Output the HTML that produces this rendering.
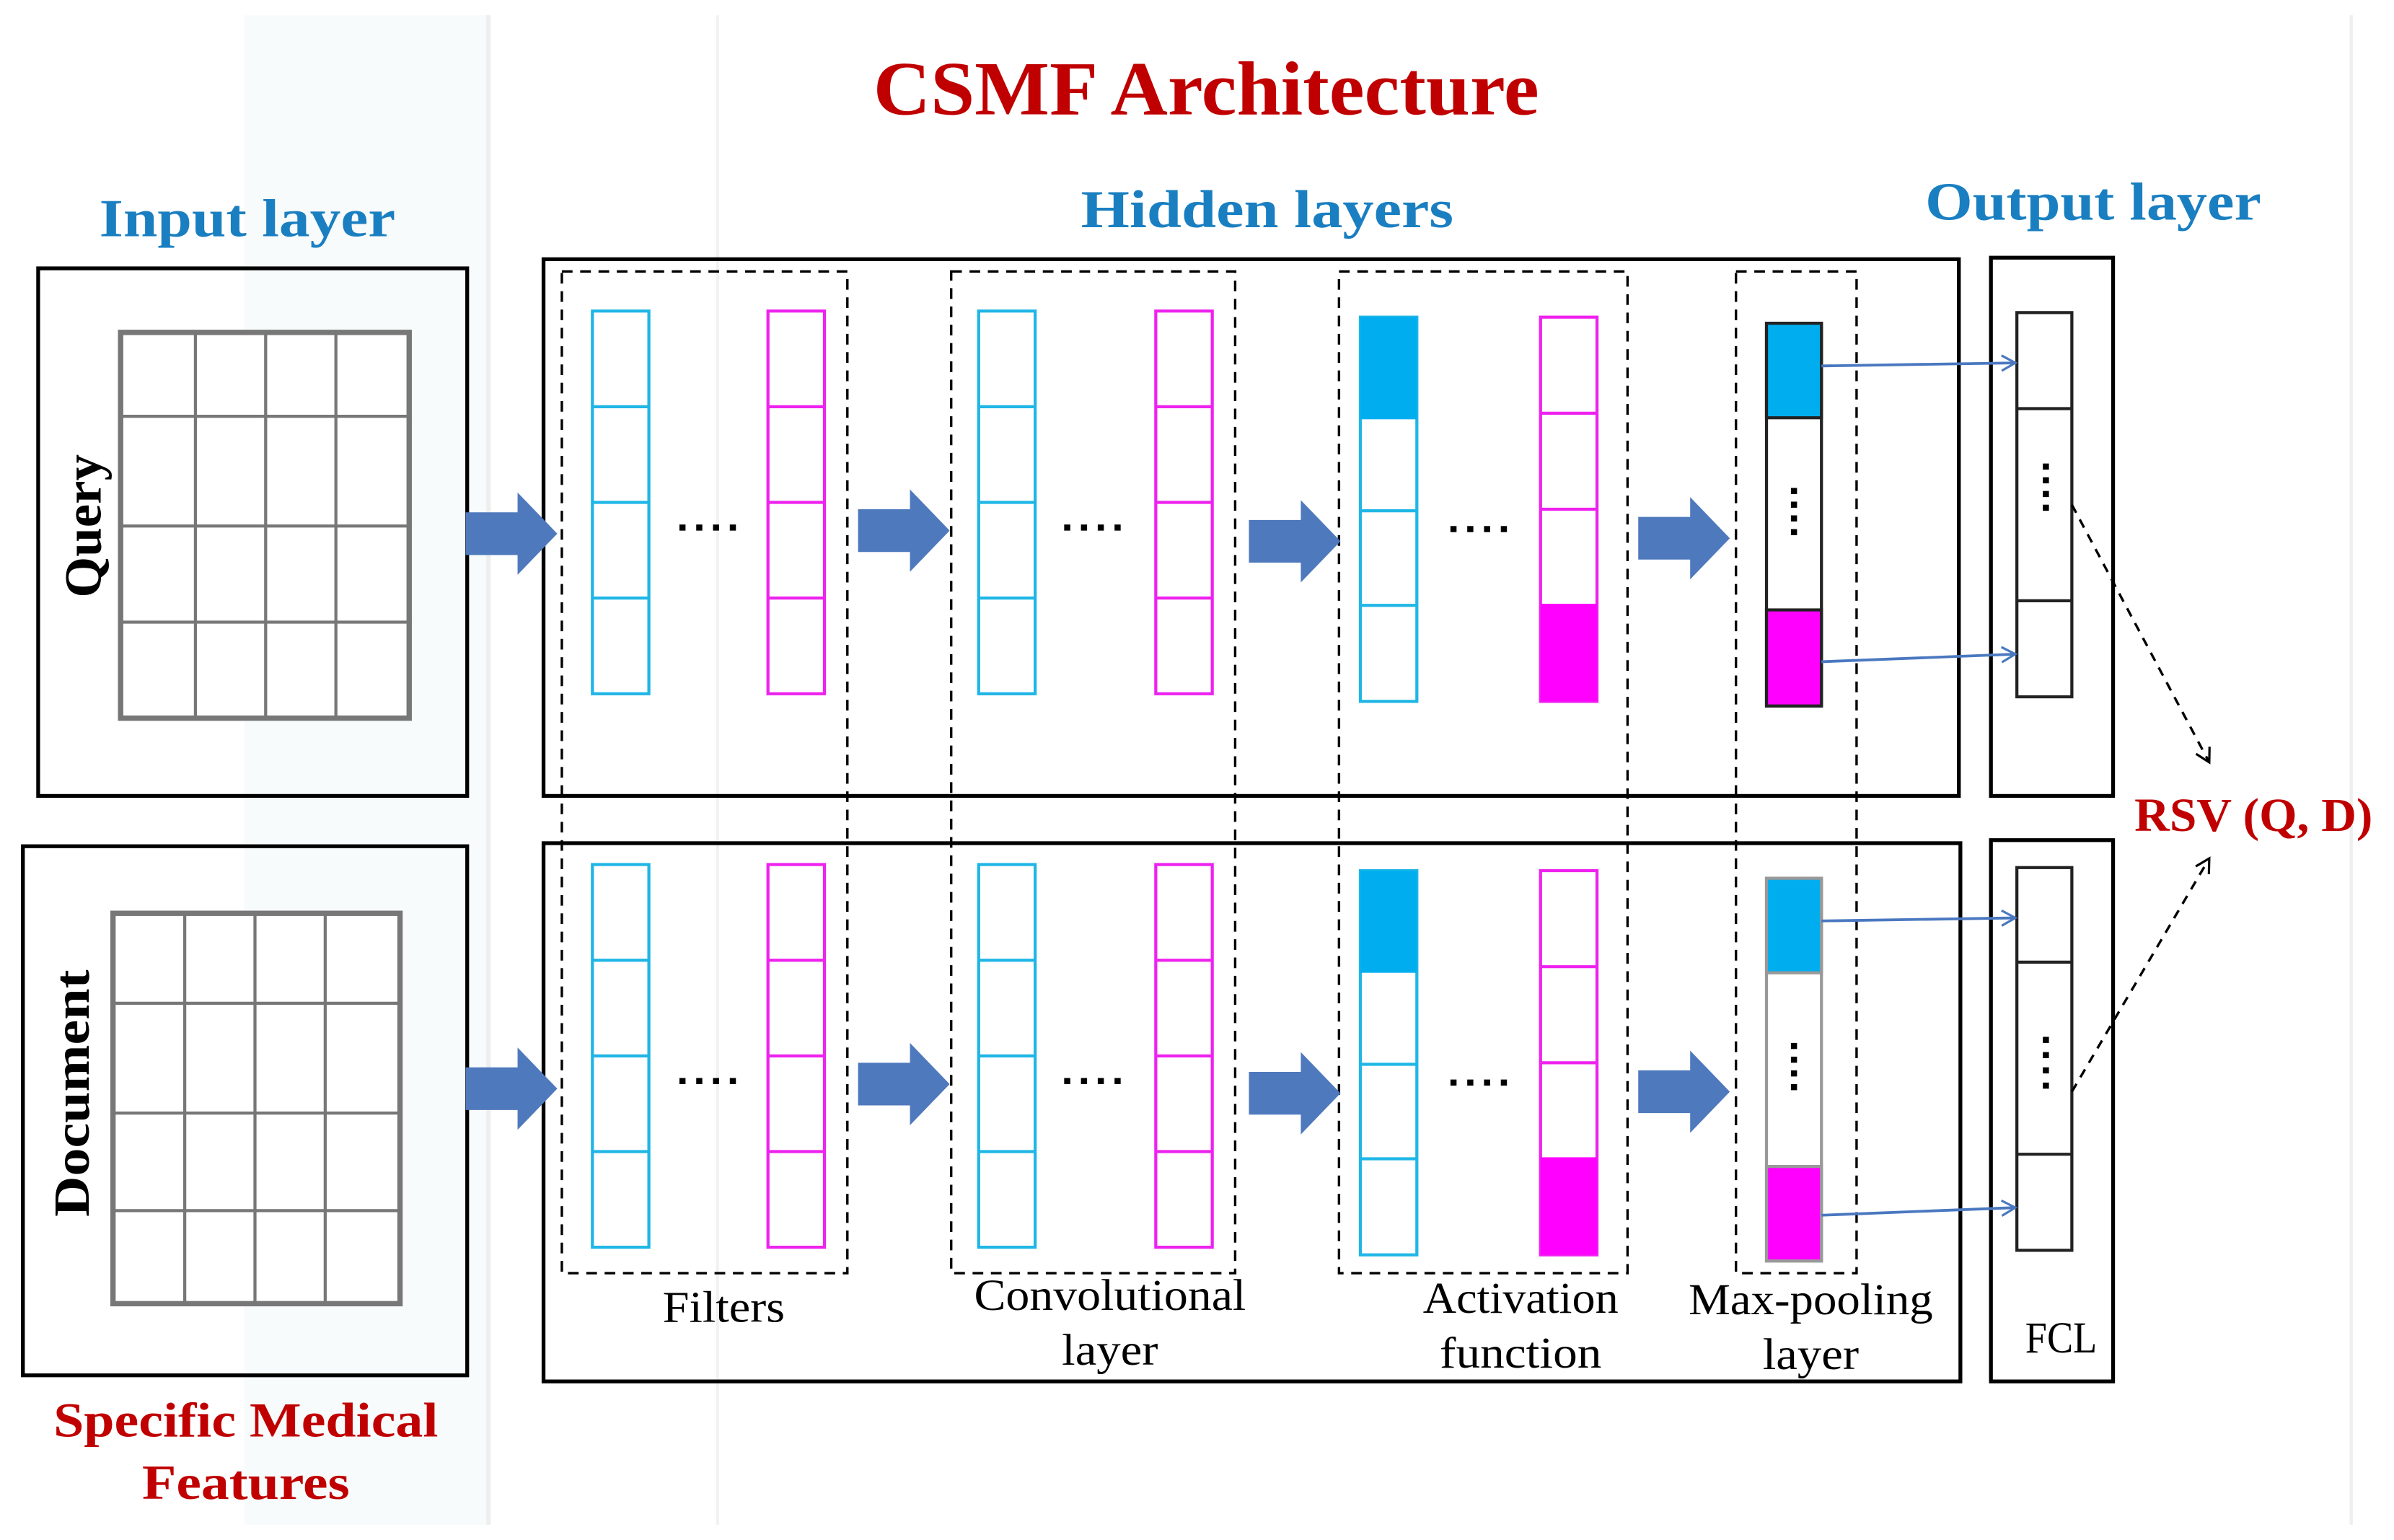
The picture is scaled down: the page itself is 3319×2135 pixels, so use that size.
<!DOCTYPE html>
<html><head><meta charset="utf-8"><style>
html,body{margin:0;padding:0;background:#fff;}
svg{display:block;}
</style></head><body>
<svg width="3319" height="2135" viewBox="0 0 1568 1010" preserveAspectRatio="none" xmlns="http://www.w3.org/2000/svg">
<defs>
<marker id="ob" markerWidth="12" markerHeight="12" refX="10" refY="6" orient="auto" markerUnits="userSpaceOnUse"><path d="M1,1 L10,6 L1,11" fill="none" stroke="#4a78c0" stroke-width="1.5"/></marker>
<marker id="od" markerWidth="12" markerHeight="12" refX="10" refY="6" orient="auto" markerUnits="userSpaceOnUse"><path d="M1,1 L10,6 L1,11" fill="none" stroke="#000" stroke-width="1.5"/></marker>
<g id="bigarrow"><path d="M0,-14 L34,-14 L34,-27 L60,0 L34,27 L34,14 L0,14 Z" fill="#4f79bd"/></g>
<g id="cbar"><rect x="0" y="0" width="37" height="251" fill="#fff" stroke="#1fb6e6" stroke-width="2"/><path d="M0,62.75H37M0,125.5H37M0,188.25H37" stroke="#1fb6e6" stroke-width="2"/></g>
<g id="mbar"><rect x="0" y="0" width="37" height="251" fill="#fff" stroke="#ee22ee" stroke-width="2"/><path d="M0,62.75H37M0,125.5H37M0,188.25H37" stroke="#ee22ee" stroke-width="2"/></g>
<g id="cact"><rect x="0" y="0" width="37" height="252" fill="#fff" stroke="#1fb6e6" stroke-width="2"/><rect x="0" y="0" width="37" height="67" fill="#00aeef"/><path d="M0,127H37M0,189H37" stroke="#1fb6e6" stroke-width="2"/></g>
<g id="mact"><rect x="0" y="0" width="37" height="252" fill="#fff" stroke="#ee22ee" stroke-width="2"/><rect x="0" y="188" width="37" height="64" fill="#ff00ff"/><path d="M0,63H37M0,126H37" stroke="#ee22ee" stroke-width="2"/></g>
<g id="dots" fill="#000"><rect x="0" y="-4" width="4" height="4"/><rect x="11" y="-4" width="4" height="4"/><rect x="22" y="-4" width="4" height="4"/><rect x="33" y="-4" width="4" height="4"/></g>
</defs>
<rect width="1568" height="1010" fill="#fff"/>
<rect x="160" y="10" width="160" height="990" fill="#f4f9fa" opacity="0.6"/>
<line x1="320" y1="10" x2="320" y2="1000" stroke="#eee" stroke-width="3"/>
<line x1="470" y1="10" x2="470" y2="1000" stroke="#f2f2f2" stroke-width="2"/>
<line x1="1540" y1="10" x2="1540" y2="1000" stroke="#eee" stroke-width="2"/>

<text x="790" y="75" text-anchor="middle" font-family="Liberation Serif" font-weight="bold" font-size="50" fill="#c00000" textLength="436" lengthAdjust="spacingAndGlyphs">CSMF Architecture</text>
<text x="162" y="155" text-anchor="middle" font-family="Liberation Serif" font-weight="bold" font-size="35" fill="#1a7fc1" textLength="194" lengthAdjust="spacingAndGlyphs">Input layer</text>
<text x="830" y="149" text-anchor="middle" font-family="Liberation Serif" font-weight="bold" font-size="35" fill="#1a7fc1" textLength="244" lengthAdjust="spacingAndGlyphs">Hidden layers</text>
<text x="1371" y="144" text-anchor="middle" font-family="Liberation Serif" font-weight="bold" font-size="35" fill="#1a7fc1" textLength="220" lengthAdjust="spacingAndGlyphs">Output layer</text>

<rect x="25" y="176" width="281" height="346" fill="none" stroke="#000" stroke-width="2.5"/>
<rect x="79" y="218" width="189" height="253" fill="#fff" stroke="#777" stroke-width="3.5"/>
<path d="M128,218V471M174,218V471M220,218V471M79,273H268M79,345H268M79,408H268" stroke="#777" stroke-width="2"/>
<text transform="translate(66,345) rotate(-90)" text-anchor="middle" font-family="Liberation Serif" font-weight="bold" font-size="34" fill="#000" textLength="94" lengthAdjust="spacingAndGlyphs">Query</text>
<rect x="15" y="555" width="291" height="347" fill="none" stroke="#000" stroke-width="2.5"/>
<rect x="74" y="599" width="188" height="256" fill="#fff" stroke="#777" stroke-width="3.5"/>
<path d="M121,599V855M167,599V855M213,599V855M74,658H262M74,730H262M74,794H262" stroke="#777" stroke-width="2"/>
<text transform="translate(58,717) rotate(-90)" text-anchor="middle" font-family="Liberation Serif" font-weight="bold" font-size="33" fill="#000" textLength="162" lengthAdjust="spacingAndGlyphs">Document</text>
<text x="161" y="942" text-anchor="middle" font-family="Liberation Serif" font-weight="bold" font-size="32" fill="#c00000" textLength="252" lengthAdjust="spacingAndGlyphs">Specific Medical</text>
<text x="161" y="983" text-anchor="middle" font-family="Liberation Serif" font-weight="bold" font-size="32" fill="#c00000" textLength="136" lengthAdjust="spacingAndGlyphs">Features</text>

<rect x="356" y="170" width="927" height="352" fill="none" stroke="#000" stroke-width="2.5"/>
<rect x="356" y="553" width="928" height="353" fill="none" stroke="#000" stroke-width="2.5"/>
<g fill="none" stroke="#000" stroke-width="1.6" stroke-dasharray="7,5">
<rect x="368" y="178" width="187" height="657"/>
<rect x="623" y="178" width="186" height="657"/>
<rect x="877" y="178" width="189" height="657"/>
<rect x="1137" y="178" width="79" height="657"/>
</g>

<use href="#cbar" x="388" y="204"/><use href="#mbar" x="503" y="204"/>
<use href="#cbar" x="641" y="204"/><use href="#mbar" x="757" y="204"/>
<use href="#cact" x="891" y="208"/><use href="#mact" x="1009" y="208"/>
<use href="#cbar" x="388" y="567"/><use href="#mbar" x="503" y="567"/>
<use href="#cbar" x="641" y="567"/><use href="#mbar" x="757" y="567"/>
<use href="#cact" x="891" y="571"/><use href="#mact" x="1009" y="571"/>

<use href="#dots" x="445" y="348"/><use href="#dots" x="697" y="348"/><use href="#dots" x="950" y="349"/>
<use href="#dots" x="445" y="711"/><use href="#dots" x="697" y="711"/><use href="#dots" x="950" y="712"/>

<rect x="1157" y="212" width="36" height="251" fill="#fff" stroke="#222" stroke-width="2"/>
<rect x="1157" y="212" width="36" height="62" fill="#00aeef" stroke="#222" stroke-width="2"/>
<rect x="1157" y="400" width="36" height="63" fill="#ff00ff" stroke="#222" stroke-width="2"/>
<g fill="#000"><rect x="1173" y="320" width="4" height="4"/><rect x="1173" y="329" width="4" height="4"/><rect x="1173" y="338" width="4" height="4"/><rect x="1173" y="347" width="4" height="4"/></g>
<rect x="1157" y="576" width="36" height="251" fill="#fff" stroke="#999" stroke-width="2"/>
<rect x="1157" y="576" width="36" height="62" fill="#00aeef" stroke="#999" stroke-width="2"/>
<rect x="1157" y="765" width="36" height="62" fill="#ff00ff" stroke="#999" stroke-width="2"/>
<g fill="#000"><rect x="1173" y="684" width="4" height="4"/><rect x="1173" y="693" width="4" height="4"/><rect x="1173" y="702" width="4" height="4"/><rect x="1173" y="711" width="4" height="4"/></g>

<use href="#bigarrow" x="305" y="350"/><use href="#bigarrow" x="562" y="348"/><use href="#bigarrow" x="818" y="355"/><use href="#bigarrow" x="1073" y="353"/>
<use href="#bigarrow" x="305" y="714"/><use href="#bigarrow" x="562" y="711"/><use href="#bigarrow" x="818" y="717"/><use href="#bigarrow" x="1073" y="716"/>

<rect x="1304" y="169" width="80" height="353" fill="none" stroke="#000" stroke-width="2.5"/>
<rect x="1304" y="551" width="80" height="355" fill="none" stroke="#000" stroke-width="2.5"/>
<rect x="1321" y="205" width="36" height="252" fill="#fff" stroke="#222" stroke-width="2"/>
<path d="M1321,268H1357M1321,394H1357" stroke="#222" stroke-width="2"/>
<rect x="1321" y="569" width="36" height="251" fill="#fff" stroke="#222" stroke-width="2"/>
<path d="M1321,631H1357M1321,757H1357" stroke="#222" stroke-width="2"/>
<g fill="#000"><rect x="1338" y="304" width="4" height="4"/><rect x="1338" y="313" width="4" height="4"/><rect x="1338" y="322" width="4" height="4"/><rect x="1338" y="331" width="4" height="4"/>
<rect x="1338" y="680" width="4" height="4"/><rect x="1338" y="690" width="4" height="4"/><rect x="1338" y="700" width="4" height="4"/><rect x="1338" y="710" width="4" height="4"/></g>

<g stroke="#4a78c0" stroke-width="1.8" fill="none">
<line x1="1193" y1="240" x2="1320" y2="238" marker-end="url(#ob)"/>
<line x1="1193" y1="434" x2="1320" y2="429" marker-end="url(#ob)"/>
<line x1="1193" y1="604" x2="1320" y2="602" marker-end="url(#ob)"/>
<line x1="1193" y1="797" x2="1320" y2="792" marker-end="url(#ob)"/>
</g>
<g stroke="#000" stroke-width="1.6" fill="none" stroke-dasharray="6,5">
<line x1="1357" y1="331" x2="1447" y2="500" marker-end="url(#od)"/>
<line x1="1357" y1="716" x2="1447" y2="563" marker-end="url(#od)"/>
</g>
<text x="1476" y="545" text-anchor="middle" font-family="Liberation Serif" font-weight="bold" font-size="31" fill="#c00000" textLength="156" lengthAdjust="spacingAndGlyphs">RSV (Q, D)</text>

<g font-family="Liberation Serif" font-size="29" fill="#000" text-anchor="middle" lengthAdjust="spacingAndGlyphs">
<text x="474" y="867" textLength="80" lengthAdjust="spacingAndGlyphs">Filters</text>
<text x="727" y="859" textLength="178" lengthAdjust="spacingAndGlyphs">Convolutional</text>
<text x="727" y="895" textLength="63" lengthAdjust="spacingAndGlyphs">layer</text>
<text x="996" y="861" textLength="128" lengthAdjust="spacingAndGlyphs">Activation</text>
<text x="996" y="897" textLength="106" lengthAdjust="spacingAndGlyphs">function</text>
<text x="1186" y="862" textLength="160" lengthAdjust="spacingAndGlyphs">Max-pooling</text>
<text x="1186" y="898" textLength="63" lengthAdjust="spacingAndGlyphs">layer</text>
<text x="1350" y="887" textLength="47" lengthAdjust="spacingAndGlyphs">FCL</text>
</g>
</svg>
</body></html>
